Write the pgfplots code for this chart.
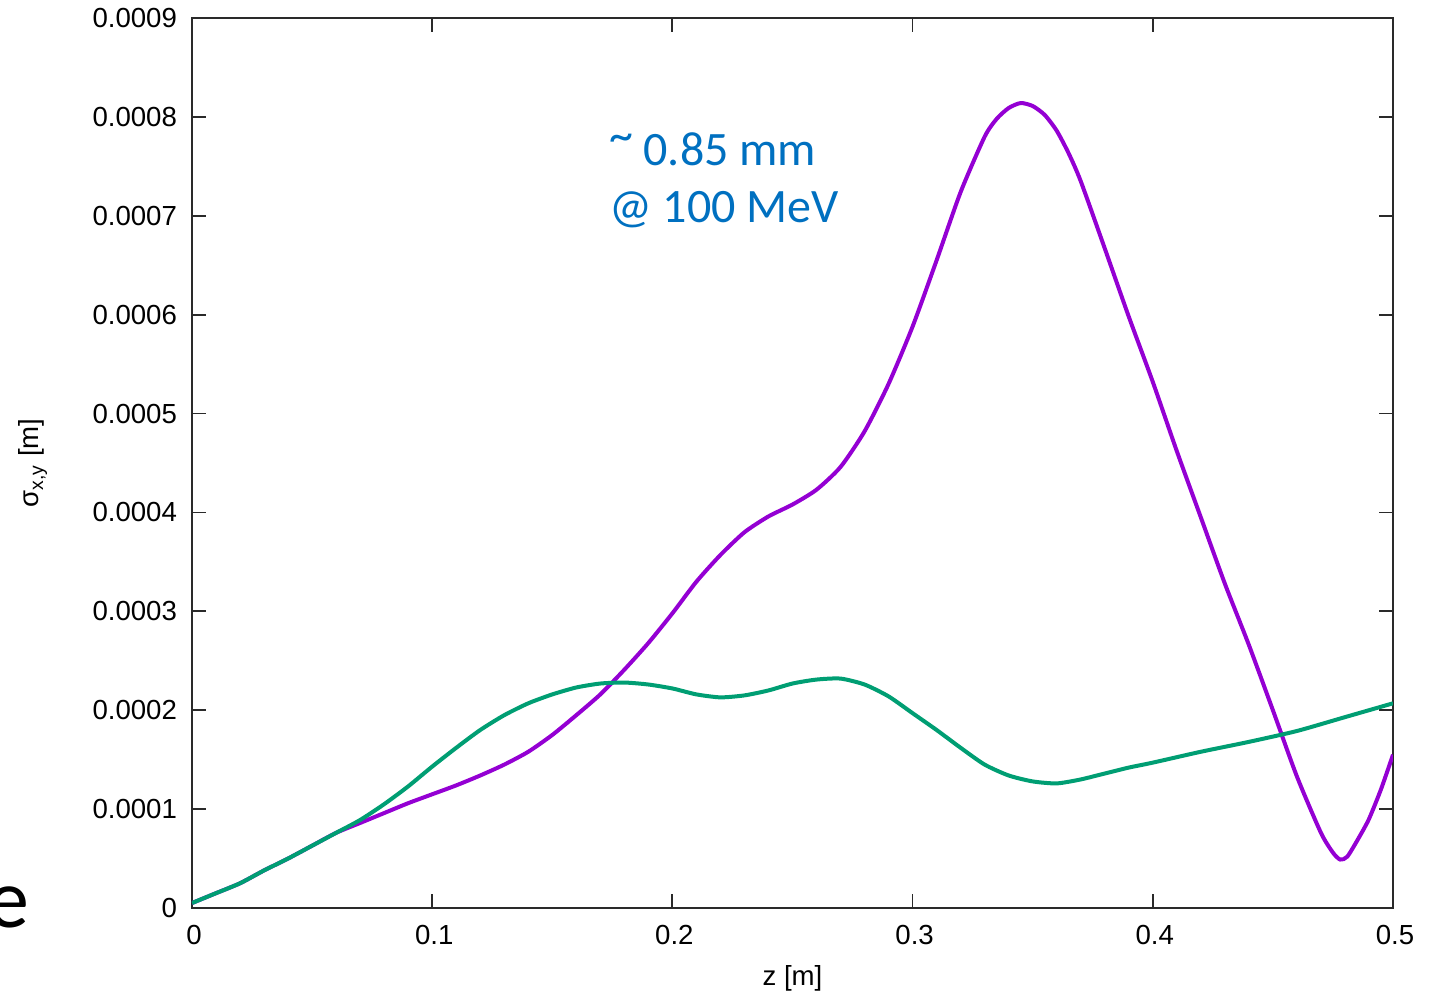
\documentclass[border=0pt]{standalone}
\usepackage{fontspec}
\setmainfont{Liberation Sans}
\newfontfamily\calfont{Carlito}
\usepackage{pgfplots}
\usepackage{pgfplotstable}
\pgfplotsset{compat=1.18}
\definecolor{gpviolet}{HTML}{9400D3}
\definecolor{gpgreen}{HTML}{009E73}
\definecolor{annblue}{HTML}{0070C0}
\definecolor{axgray}{HTML}{2A2A2A}

\pgfplotstableread{
x y
0 0.05
0.01 0.15
0.02 0.25
0.03 0.38
0.04 0.50
0.05 0.63
0.06 0.76
0.07 0.89
0.08 1.05
0.09 1.23
0.10 1.43
0.11 1.62
0.12 1.80
0.13 1.95
0.14 2.07
0.15 2.16
0.16 2.23
0.17 2.27
0.18 2.28
0.19 2.26
0.20 2.22
0.21 2.16
0.22 2.13
0.23 2.15
0.24 2.20
0.25 2.27
0.26 2.31
0.27 2.32
0.28 2.26
0.29 2.14
0.30 1.97
0.31 1.80
0.32 1.62
0.33 1.45
0.34 1.34
0.35 1.28
0.36 1.26
0.37 1.30
0.38 1.36
0.39 1.42
0.40 1.47
0.42 1.58
0.44 1.68
0.46 1.79
0.48 1.93
0.50 2.07
}\greendata

\pgfplotstableread{
x y
0 0.05
0.01 0.15
0.02 0.25
0.03 0.38
0.04 0.50
0.05 0.63
0.06 0.76
0.07 0.86
0.08 0.96
0.09 1.06
0.10 1.15
0.11 1.24
0.12 1.34
0.13 1.45
0.14 1.58
0.15 1.75
0.16 1.95
0.17 2.16
0.18 2.41
0.19 2.68
0.20 2.98
0.21 3.30
0.22 3.57
0.23 3.80
0.24 3.96
0.25 4.08
0.26 4.23
0.27 4.46
0.28 4.82
0.29 5.30
0.30 5.88
0.31 6.55
0.32 7.24
0.33 7.80
0.335 7.98
0.34 8.09
0.345 8.14
0.35 8.11
0.355 8.02
0.36 7.86
0.365 7.63
0.37 7.35
0.38 6.67
0.39 5.98
0.40 5.32
0.41 4.62
0.42 3.95
0.43 3.28
0.44 2.66
0.45 2.00
0.46 1.33
0.47 0.76
0.475 0.56
0.478 0.49
0.481 0.52
0.486 0.72
0.49 0.90
0.495 1.20
0.50 1.55
}\violetdata

\begin{document}
\begin{tikzpicture}
\useasboundingbox (-96bp,-42.5bp) rectangle (623.5bp,454bp);
\begin{axis}[
  scale only axis,
  width=600.5bp, height=445bp,
  xmin=0, xmax=0.5, ymin=0, ymax=9,
  xtick={0,0.1,0.2,0.3,0.4,0.5},
  xticklabels={0,0.1,0.2,0.3,0.4,0.5},
  ytick={0,1,2,3,4,5,6,7,8,9},
  yticklabels={0,0.0001,0.0002,0.0003,0.0004,0.0005,0.0006,0.0007,0.0008,0.0009},
  /pgf/number format/assume math mode=true,
  tick align=inside,
  major tick length=7bp,
  minor tick num=0,
  axis line style={axgray, line width=0.9bp},
  every tick/.style={axgray, line width=0.9bp},
  tick label style={font=\fontsize{13.8bp}{16bp}\selectfont, text=black},
  xticklabel style={yshift=-5bp, xshift=1bp},
  yticklabel style={xshift=-4bp},
  label style={font=\fontsize{13.8bp}{16bp}\selectfont, text=black},
  xlabel={z [m]},
  ylabel={σ\textsubscript{x,y} [m]},
  xlabel style={at={(axis description cs:0.5,-0.0795)}, anchor=center},
  ylabel style={at={(axis description cs:-0.1324,0.5)}, anchor=center},
  clip=true,
]
\addplot[gpviolet, line width=2bp, smooth, tension=0.4] table[x=x, y=y] {\violetdata};
\addplot[gpgreen, line width=2bp, smooth, tension=0.4] table[x=x, y=y] {\greendata};
\node[anchor=base west, inner sep=0, text=annblue, font=\calfont\fontsize{24bp}{29bp}\selectfont] at (axis cs:0.1735,7.513) {\raisebox{0.28em}{\textasciitilde}\hspace{0.22em}0.85 mm};
\node[anchor=base west, inner sep=0, text=annblue, font=\calfont\fontsize{24bp}{29bp}\selectfont] at (axis cs:0.1735,6.927) {@ 100 MeV};
\end{axis}
\node[anchor=base east, inner sep=0, text=black, font=\calfont\fontsize{42bp}{50bp}\selectfont] at (-81bp,-9.5bp) {e};
\end{tikzpicture}
\end{document}
